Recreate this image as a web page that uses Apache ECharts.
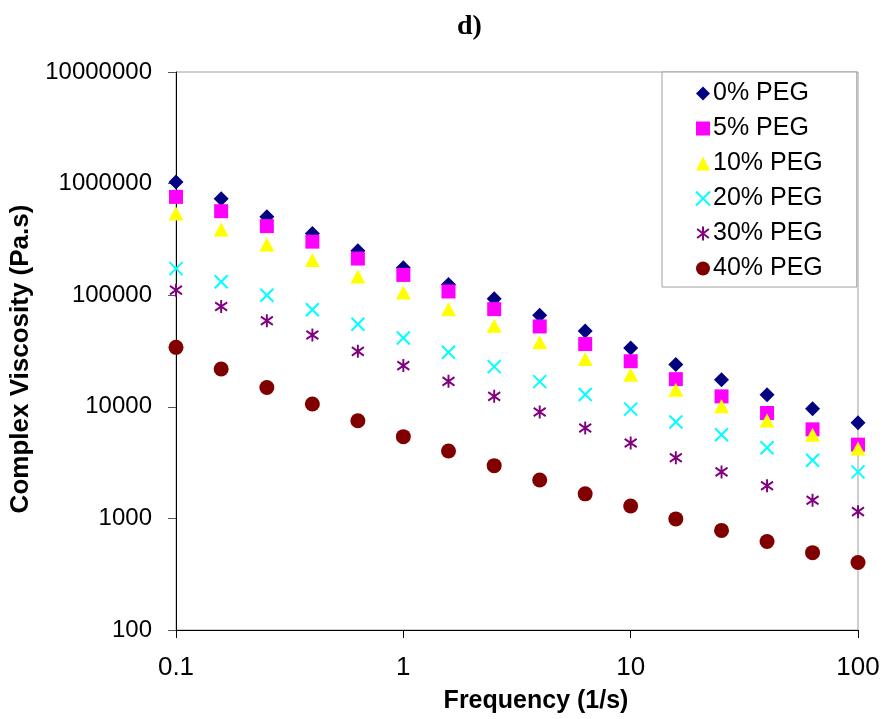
<!DOCTYPE html>
<html>
<head>
<meta charset="utf-8">
<script src="https://cdn.jsdelivr.net/npm/echarts@6/dist/echarts.min.js"></script>
<style>
html,body{margin:0;padding:0;background:#fff;}
#chart{width:883px;height:719px;}
</style>
</head>
<body>
<div id="chart"></div>
<script>
var freq = [0.1, 0.158, 0.251, 0.398, 0.631, 1, 1.58, 2.51, 3.98, 6.31, 10, 15.8, 25.1, 39.8, 63.1, 100];
var peg0 = [1035000, 730000, 505000, 358000, 250000, 176000, 125000, 93000, 66000, 47700, 33600, 23900, 17500, 12800, 9600, 7200];
var peg5 = [760000, 566000, 416000, 302000, 213000, 152000, 108000, 75000, 52500, 36500, 25600, 17700, 12400, 8800, 6280, 4580];
var peg10 = [540000, 388000, 285000, 207000, 147000, 106000, 75000, 53200, 37900, 26800, 19400, 14200, 10100, 7550, 5620, 4220];
var peg20 = [173000, 132000, 100000, 74000, 55000, 41300, 30800, 22900, 16800, 12900, 9530, 7300, 5620, 4300, 3320, 2610];
var peg30 = [111000, 79300, 59000, 44000, 31400, 23400, 16900, 12400, 8980, 6460, 4740, 3490, 2610, 1960, 1456, 1150];
var peg40 = [34100, 21800, 14900, 10600, 7500, 5400, 4020, 2970, 2210, 1660, 1290, 990, 781, 620, 493, 402];
var seriesNames = ['0% PEG', '5% PEG', '10% PEG', '20% PEG', '30% PEG', '40% PEG'];

function pairs(ys) { return freq.map(function (f, i) { return [f, ys[i]]; }); }

var crossPath = 'path://M0,0L10,10M10,0L0,10';
var starPath = 'path://M5,0L5,10M0.8,1.8L9.2,8.2M9.2,1.8L0.8,8.2';

var chart = echarts.init(document.getElementById('chart'), null, {renderer: 'canvas'});
var font = '"Liberation Sans", Arial, sans-serif';
chart.setOption({
  animation: false,
  backgroundColor: '#ffffff',
  title: {
    text: 'd)', left: 452, top: 8,
    textStyle: {fontFamily: '"Liberation Serif", "Times New Roman", serif', fontWeight: 'bold', fontSize: 28, color: '#000'}
  },
  grid: {left: 176, right: 25, top: 72, bottom: 87, show: true, borderColor: '#a0a0a0', borderWidth: 1, backgroundColor: 'transparent'},
  legend: {
    orient: 'vertical', left: 662, top: 72,
    padding: [9, 34, 6, 33],
    itemWidth: 14, itemHeight: 14, itemGap: 10,
    borderColor: '#a0a0a0', borderWidth: 1, backgroundColor: '#fff',
    textStyle: {fontFamily: font, fontSize: 25, color: '#000', padding: [0, 0, 0, -2]},
    data: seriesNames
  },
  xAxis: {
    type: 'log', logBase: 10, min: 0.1, max: 100,
    name: 'Frequency (1/s)', nameLocation: 'middle', nameGap: 59,
    nameTextStyle: {fontFamily: font, fontWeight: 'bold', fontSize: 25, color: '#000', padding: [0, 0, 0, 38]},
    axisLine: {show: true, lineStyle: {color: '#000', width: 1}},
    axisTick: {show: true, inside: false, length: 8, lineStyle: {color: '#000'}},
    minorTick: {show: false},
    splitLine: {show: false},
    axisLabel: {fontFamily: font, fontSize: 26, color: '#000', margin: 25,
      formatter: function (v) { return String(Number(v.toPrecision(6))); }}
  },
  yAxis: {
    type: 'log', logBase: 10, min: 100, max: 10000000,
    name: 'Complex Viscosity (Pa.s)', nameLocation: 'middle', nameGap: 129, nameRotate: 90,
    nameTextStyle: {fontFamily: font, fontWeight: 'bold', fontSize: 26, color: '#000', padding: [0, 16, 0, 0]},
    axisLine: {show: true, lineStyle: {color: '#000', width: 1}},
    axisTick: {show: true, inside: false, length: 8, lineStyle: {color: '#555'}},
    minorTick: {show: false},
    splitLine: {show: false},
    axisLabel: {fontFamily: font, fontSize: 24, color: '#000', margin: 24,
      formatter: function (v) { return String(Math.round(v)); }}
  },
  series: [
    {name: seriesNames[0], type: 'scatter', data: pairs(peg0), symbol: 'diamond', symbolSize: [15, 15], itemStyle: {color: '#000080', opacity: 1}},
    {name: seriesNames[1], type: 'scatter', data: pairs(peg5), symbol: 'rect', symbolSize: [14, 14], itemStyle: {color: '#ff00ff', opacity: 1}},
    {name: seriesNames[2], type: 'scatter', data: pairs(peg10), symbol: 'triangle', symbolSize: [15, 14], itemStyle: {color: '#ffff00', opacity: 1}},
    {name: seriesNames[3], type: 'scatter', data: pairs(peg20), symbol: crossPath, symbolSize: [13, 13], itemStyle: {color: 'rgba(0,0,0,0)', borderColor: '#00ffff', borderWidth: 2, opacity: 1}},
    {name: seriesNames[4], type: 'scatter', data: pairs(peg30), symbol: starPath, symbolSize: [12, 13], itemStyle: {color: 'rgba(0,0,0,0)', borderColor: '#800080', borderWidth: 2, opacity: 1}},
    {name: seriesNames[5], type: 'scatter', data: pairs(peg40), symbol: 'circle', symbolSize: 15, itemStyle: {color: '#800000', opacity: 1}}
  ]
});
</script>
</body>
</html>
